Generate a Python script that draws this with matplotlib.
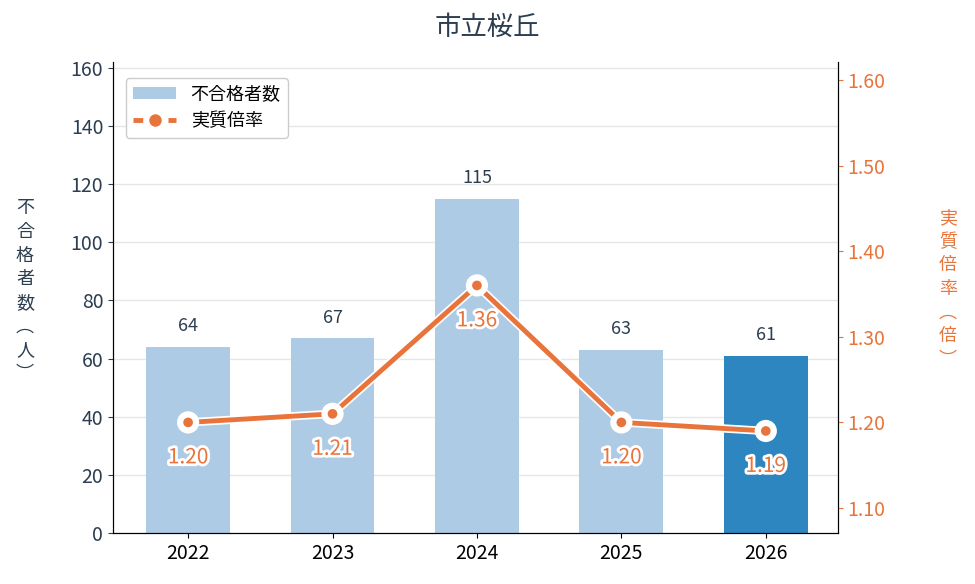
import numpy as np
import matplotlib.pyplot as plt
import matplotlib.patheffects as pe

plt.rcParams['font.family'] = ['Noto Sans CJK JP', 'DejaVu Sans']

years = ['2022', '2023', '2024', '2025', '2026']
fails = [64, 67, 115, 63, 61]
ratio = [1.20, 1.21, 1.36, 1.20, 1.19]

light = '#aecbe6'
dark_bar = '#2e86c1'
orange = '#e8743b'
text_c = '#2c3e50'

x = np.arange(len(years))
colors = [light] * 4 + [dark_bar]

fig = plt.figure(figsize=(9.75, 5.84), dpi=100)
ax = fig.add_axes([113/975, 1 - 533/584, 725/975, 471/584])
ax2 = ax.twinx()

bars = ax.bar(x, fails, width=0.58, color=colors, label='不合格者数', zorder=2)
for xi, v in zip(x, fails):
    ax.text(xi, v + 4, str(v), ha='center', va='bottom', fontsize=13, color=text_c)

ax.set_xlim(-0.52, 4.5)
ax.set_ylim(0, 162)
ax.set_yticks(range(0, 161, 20))
ax.set_xticks(x)
ax.set_xticklabels(years, fontsize=14)
ax.tick_params(axis='y', labelsize=14, colors=text_c)
ax.tick_params(axis='x', colors='black')
for lab in ax.get_yticklabels():
    lab.set_color(text_c)
ax.grid(axis='y', color='#e6e6e6', linewidth=1, zorder=0)
ax.set_axisbelow(True)
ax.spines['top'].set_visible(False)
ax2.spines['top'].set_visible(False)

line, = ax2.plot(x, ratio, color=orange, linewidth=3.5, marker='o', markersize=10,
                 markeredgecolor='white', markeredgewidth=3, label='実質倍率', zorder=5,
                 path_effects=[pe.Stroke(linewidth=6, foreground='white'), pe.Normal()])
for xi, r in zip(x, ratio):
    ax2.text(xi, r - 0.028, f'{r:.2f}', ha='center', va='top', fontsize=15, color=orange,
             zorder=6, path_effects=[pe.withStroke(linewidth=4, foreground='white')])
ax2.set_ylim(1.0708, 1.621)
ax2.set_yticks([1.10, 1.20, 1.30, 1.40, 1.50, 1.60])
ax2.set_yticklabels([f'{t:.2f}' for t in [1.10, 1.20, 1.30, 1.40, 1.50, 1.60]])
ax2.tick_params(axis='y', labelsize=14, colors=orange)
for lab in ax2.get_yticklabels():
    lab.set_color(orange)

fig.text(25/975, 1 - 291/584, '\n'.join('不合格者数') + '\n︵\n人\n︶', ha='center', va='center',
         fontsize=13, color=text_c, linespacing=1.4)
fig.text(948/975, 1 - 289/584, '\n'.join('実質倍率') + '\n︵\n倍\n︶', ha='center', va='center',
         fontsize=13, color=orange, linespacing=1.4)

fig.text(0.5, 1 - 27/584, '市立桜丘', ha='center', va='center', fontsize=19, color=text_c)

leg_line = plt.Line2D([], [], color=orange, linewidth=3.5, linestyle=(0, (2.0, 5.2)),
                      marker='o', markersize=10, markeredgecolor='white', markeredgewidth=1)
ax.legend([bars, leg_line], ['不合格者数', '実質倍率'], loc='upper left', fontsize=13,
          frameon=True, edgecolor='#cccccc', framealpha=1, bbox_to_anchor=(0.005, 0.985),
          handlelength=2.4)

fig.savefig('out.png', dpi=100)
